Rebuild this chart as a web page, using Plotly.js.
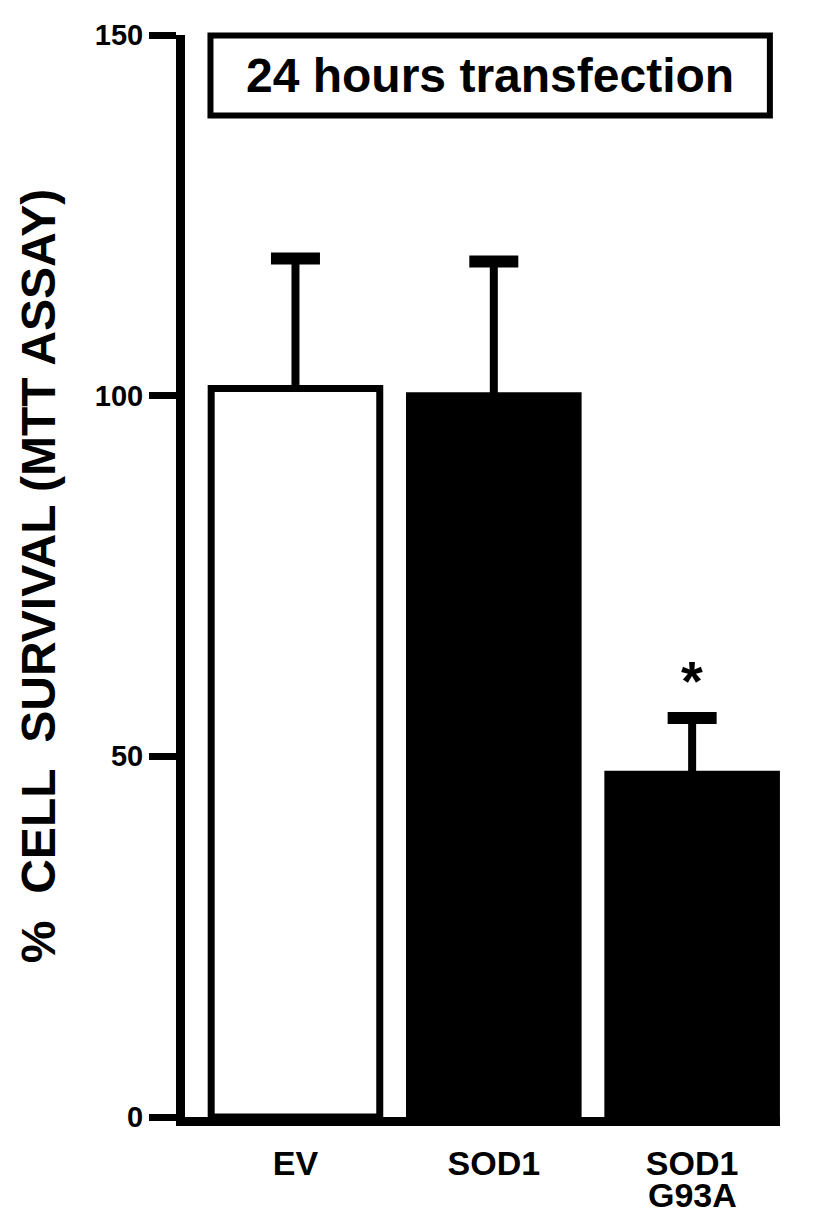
<!DOCTYPE html>
<html>
<head>
<meta charset="utf-8">
<script src="https://cdn.plot.ly/plotly-3.0.1.min.js"></script>
<style>html,body{margin:0;padding:0;background:#fff;}</style>
</head>
<body>
<div id="chart" style="width:816px;height:1215px;"></div>
<script>
// ---- data ----
var categories = ['EV', 'SOD1', 'SOD1 G93A'];
var tickLabels = ['EV', 'SOD1', 'SOD1'];
var subLabels = ['', '', 'G93A'];
var means = [101, 100, 47.5];
var sems = [18, 18.6, 7.8];
var barColors = ['white', 'black', 'black'];
var yTicks = [0, 50, 100, 150];
var titleText = '24 hours transfection';
var yTitle = '%  CELL  SURVIVAL (MTT ASSAY)';
var sigLabel = '*';
var sigIndex = 2;

var capY = means.map(function (m, i) { return m + sems[i]; });
var FONT = 'Liberation Sans, Arial, Helvetica, sans-serif';

var bars = {
  type: 'bar',
  x: categories,
  y: means,
  width: 0.85,
  marker: { color: barColors, line: { color: 'black', width: 7 } },
  error_y: {
    type: 'data', array: sems, arrayminus: [0, 0, 0], symmetric: false,
    thickness: 8, width: 0, color: 'black'
  },
  hoverinfo: 'none'
};

var caps = {
  type: 'scatter',
  mode: 'markers',
  x: categories,
  y: capY,
  marker: { symbol: 'line-ew', size: 35, line: { color: 'black', width: 12 } },
  hoverinfo: 'none'
};

var annotations = [{
  xref: 'paper', yref: 'paper', x: 0.513, y: 0.9626,
  xanchor: 'center', yanchor: 'middle', showarrow: false,
  text: titleText,
  font: { family: FONT, size: 48, color: 'black', weight: 'bold' }
}, {
  xref: 'x', yref: 'y', x: categories[sigIndex], y: capY[sigIndex],
  xanchor: 'center', yanchor: 'bottom', yshift: 4, showarrow: false,
  text: sigLabel,
  font: { family: FONT, size: 56, color: 'black', weight: 'bold' }
}];
subLabels.forEach(function (s, i) {
  if (!s) return;
  annotations.push({
    xref: 'x', yref: 'paper', x: categories[i], y: -0.0725,
    xanchor: 'center', yanchor: 'middle', showarrow: false,
    text: s,
    font: { family: FONT, size: 34, color: 'black', weight: 'bold' }
  });
});

var layout = {
  width: 816,
  height: 1215,
  margin: { l: 184.5, r: 36, t: 34.5, b: 98, pad: 0 },
  paper_bgcolor: 'white',
  plot_bgcolor: 'white',
  showlegend: false,
  xaxis: {
    type: 'category',
    range: [-0.557, 2.443],
    tickvals: categories,
    ticktext: tickLabels,
    showline: true, linecolor: 'black', linewidth: 9,
    ticks: '', showgrid: false, zeroline: false,
    ticklabelstandoff: 8,
    tickfont: { family: FONT, size: 34, color: 'black', weight: 'bold' },
    fixedrange: true
  },
  yaxis: {
    range: [0, 150],
    tickvals: yTicks,
    ticktext: yTicks.map(String),
    showline: true, linecolor: 'black', linewidth: 9,
    ticks: 'outside', ticklen: 27, tickwidth: 7, tickcolor: 'black',
    showgrid: false, zeroline: false,
    tickfont: { family: FONT, size: 29, color: 'black', weight: 'bold' },
    title: { text: yTitle, standoff: 28, font: { family: FONT, size: 48, color: 'black', weight: 'bold' } },
    automargin: false,
    fixedrange: true
  },
  shapes: [{
    type: 'rect', xref: 'paper', yref: 'paper',
    x0: 0.0428, x1: 0.983, y0: 0.9256, y1: 0.9995,
    line: { color: 'black', width: 6 }, fillcolor: 'white', layer: 'above'
  }],
  annotations: annotations
};

Plotly.newPlot('chart', [bars, caps], layout, { displayModeBar: false, staticPlot: true });
</script>
</body>
</html>
